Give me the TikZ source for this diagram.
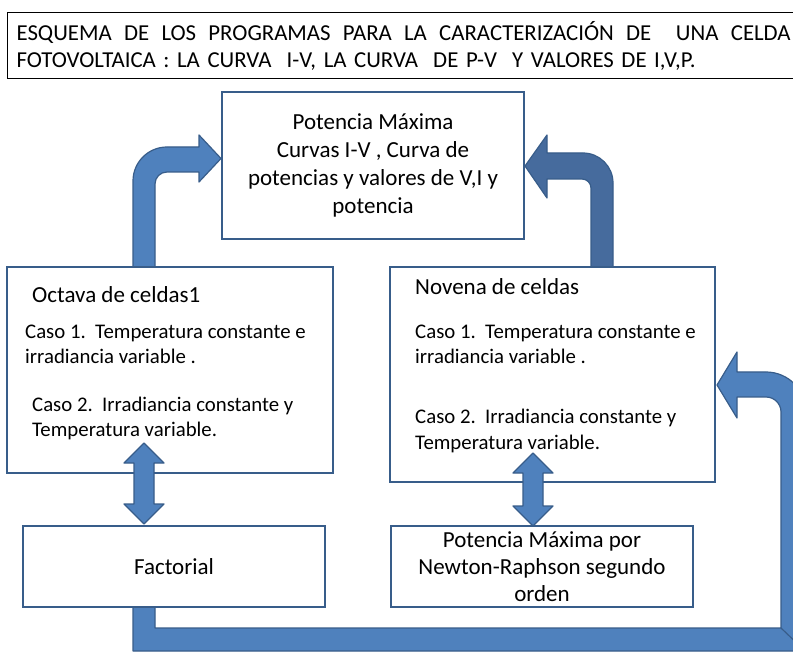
\documentclass[tikz,border=0pt]{standalone}
\usepackage{fontspec}
\setmainfont{Carlito}
\usetikzlibrary{positioning,backgrounds}

\definecolor{boxblue}{HTML}{385D8A}
\definecolor{arrowblue}{HTML}{4F81BD}
\definecolor{arrowdark}{HTML}{466B9D}

\tikzset{
  cellbox/.style={draw=boxblue, line width=1.6pt, inner sep=0pt, align=center},
  blockarrow/.style={fill=arrowblue, draw=boxblue, line width=1.2pt, line join=round},
  casetext/.style={inner sep=0pt, anchor=base west, font=\fontsize{20.8}{25}\selectfont},
  headtext/.style={inner sep=0pt, anchor=base west, font=\fontsize{23}{28}\selectfont}
}

\begin{document}
\begin{tikzpicture}[x=1pt,y=1pt]
\useasboundingbox (0,0) rectangle (793,-652);

% title
\node[draw=black, line width=1.2pt, anchor=north west, minimum height=66pt, inner xsep=9pt, inner ysep=0pt,
  text width=788pt, align=left, font=\fontsize{22.8}{27}\selectfont] (title) at (7,-12)
  {\hbox to 774pt{ESQUEMA\hfill DE\hfill LOS\hfill PROGRAMAS\hfill PARA\hfill LA\hfill CARACTERIZACIÓN\hfill DE\hfill\hfill UNA\hfill CELDA}\\
   FOTOVOLTAICA : LA CURVA\ \ I-V, LA CURVA\ \ DE P-V\ \ Y VALORES DE I,V,P.};

% boxes
\node[cellbox, minimum width=302pt, minimum height=147pt, font=\fontsize{23}{28}\selectfont] (pmax) at (373,-165.5)
  {Potencia Máxima\\Curvas I-V , Curva de\\potencias y valores de V,I y\\potencia};
\node[cellbox, minimum width=326pt, minimum height=206pt] (oct) at (170,-370) {};
\node[cellbox, minimum width=325pt, minimum height=215pt] (nov) at (552.5,-374.5) {};
\node[cellbox, minimum width=302pt, minimum height=81pt, font=\fontsize{23}{27}\selectfont] (fac) at (174,-566.5) {Factorial};
\node[cellbox, minimum width=302pt, minimum height=81pt, font=\fontsize{23}{27}\selectfont] (newton) at (542,-566.5)
  {Potencia Máxima por\\Newton-Raphson segundo\\orden};

% texts in the two cell boxes
\node[headtext] (octname) at (32,-302.4) {Octava de celdas1};
\node[casetext] (octa) at (25,-338.6) {Caso 1.\ \ Temperatura constante e};
\node[casetext] (octb) at (25,-363.6) {irradiancia variable .};
\node[casetext] (octc) at (32,-411.6) {Caso 2.\ \ Irradiancia constante y};
\node[casetext] (octd) at (32,-436.6) {Temperatura variable.};

\node[headtext] (novname) at (415,-294.4) {Novena de celdas};
\node[casetext] (nova) at (415,-338.6) {Caso 1.\ \ Temperatura constante e};
\node[casetext] (novb) at (415,-363.6) {irradiancia variable .};
\node[casetext] (novc) at (415,-423.6) {Caso 2.\ \ Irradiancia constante y};
\node[casetext] (novd) at (415,-449.6) {Temperatura variable.};

\begin{scope}[on background layer]
\fill[white] (0,0) rectangle (793,-652);
% octava -> potencia maxima
\draw[blockarrow] (133,-267) -- (133,-181) arc[start angle=180, end angle=90, radius=34] -- (199,-147)
  -- (199,-135) -- (221,-158.5) -- (199,-182) -- (199,-172) -- (167,-172)
  arc[start angle=90, end angle=180, radius=12] -- (155,-267) -- cycle;
% novena -> potencia maxima
\draw[blockarrow, fill=arrowdark] (613,-267) -- (613,-183) arc[start angle=0, end angle=90, radius=30] -- (547,-153)
  -- (547,-135) -- (525,-166) -- (547,-198) -- (547,-179) -- (582,-179)
  arc[start angle=90, end angle=0, radius=9] -- (591,-267) -- cycle;
% factorial -> novena
\draw[blockarrow] (133,-607) -- (133,-651) -- (806,-651) -- (806,-412) arc[start angle=0, end angle=90, radius=40]
  -- (737,-372) -- (737,-352) -- (717,-385) -- (737,-418) -- (737,-397) -- (766,-397)
  arc[start angle=90, end angle=0, radius=15] -- (781,-628) -- (155,-628) -- (155,-607) -- cycle;
\draw[boxblue, line width=1.2pt] (781,-628) -- (804,-650);
\end{scope}

% double arrows
\foreach \x/\ya/\yb in {144/443/524, 533/453/526}
  \draw[blockarrow] (\x,-\ya) -- (\x+20,-\ya-20) -- (\x+10,-\ya-20) -- (\x+10,-\yb+20) -- (\x+20,-\yb+20)
    -- (\x,-\yb) -- (\x-20,-\yb+20) -- (\x-10,-\yb+20) -- (\x-10,-\ya-20) -- (\x-20,-\ya-20) -- cycle;
\end{tikzpicture}
\end{document}
